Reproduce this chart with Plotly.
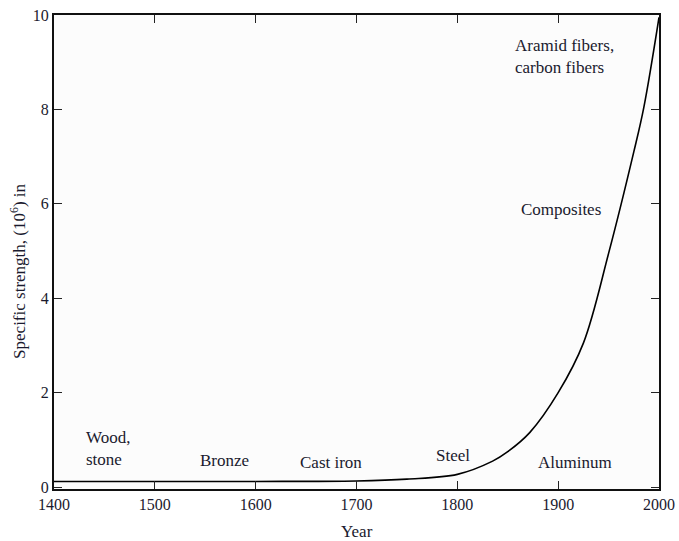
import plotly.graph_objects as go

years = [1400, 1500, 1600, 1700, 1750, 1800, 1835, 1850, 1872, 1900, 1925, 1950, 1975, 1985, 2000]
strength = [0.12, 0.12, 0.12, 0.13, 0.17, 0.27, 0.55, 0.75, 1.16, 2.0, 3.05, 4.95, 7.1, 8.05, 9.95]

labels = ["Wood,<br>stone", "Bronze", "Cast iron", "Steel", "Aluminum", "Composites", "Aramid fibers,<br>carbon fibers"]
label_x = [1430, 1569, 1675, 1796, 1917, 1903, 1855]
label_y = [0.81, 0.57, 0.53, 0.68, 0.53, 5.88, 9.12]
label_anchor = ["left", "center", "center", "center", "center", "center", "left"]

x_ticks = [1400, 1500, 1600, 1700, 1800, 1900, 2000]
y_ticks = [0, 2, 4, 6, 8, 10]

FONT = "Liberation Serif"
TXT = "#1a1a2e"

fig = go.Figure()
fig.add_trace(go.Scatter(
    x=years, y=strength, mode="lines",
    line=dict(color="black", width=1.6, shape="spline", smoothing=1.0),
    hoverinfo="skip", showlegend=False,
))

for t, x, y, a in zip(labels, label_x, label_y, label_anchor):
    fig.add_annotation(x=x, y=y, text=t, showarrow=False, align="left", xanchor=a,
                       font=dict(family=FONT, size=17, color=TXT))

# axis titles
fig.add_annotation(xref="paper", yref="paper", x=0.5, y=0, yshift=-42, text="Year",
                   showarrow=False, xanchor="center", yanchor="middle",
                   font=dict(family=FONT, size=17, color=TXT))
fig.add_annotation(xref="paper", yref="paper", x=0, y=0.458, xshift=-36,
                   text="Specific strength, (10<sup>6</sup>) in", textangle=-90,
                   showarrow=False, xanchor="center", yanchor="middle",
                   font=dict(family=FONT, size=17, color=TXT))

fig.update_layout(
    width=679, height=541,
    margin=dict(l=54, r=20, t=15, b=52),
    paper_bgcolor="white",
    plot_bgcolor="#fcfcfc",
    font=dict(family=FONT, size=16, color=TXT),
    showlegend=False,
)
fig.update_xaxes(
    range=[1400, 2000], tickvals=x_ticks, automargin=False,
    ticks="inside", ticklen=8, tickwidth=1.2, tickcolor="#222",
    showline=True, linecolor="#111", linewidth=2, mirror="ticks",
    showgrid=False, zeroline=False,
    tickfont=dict(family=FONT, size=16, color=TXT),
)
fig.update_yaxes(
    range=[-0.04, 10], tickvals=y_ticks, automargin=False,
    ticks="inside", ticklen=8, tickwidth=1.2, tickcolor="#222",
    showline=True, linecolor="#111", linewidth=2, mirror="ticks",
    showgrid=False, zeroline=False,
    tickfont=dict(family=FONT, size=16, color=TXT),
)

fig.write_html("out.html", config={"displayModeBar": False},
               post_script="document.body.style.margin='0';document.body.style.overflow='hidden';")
